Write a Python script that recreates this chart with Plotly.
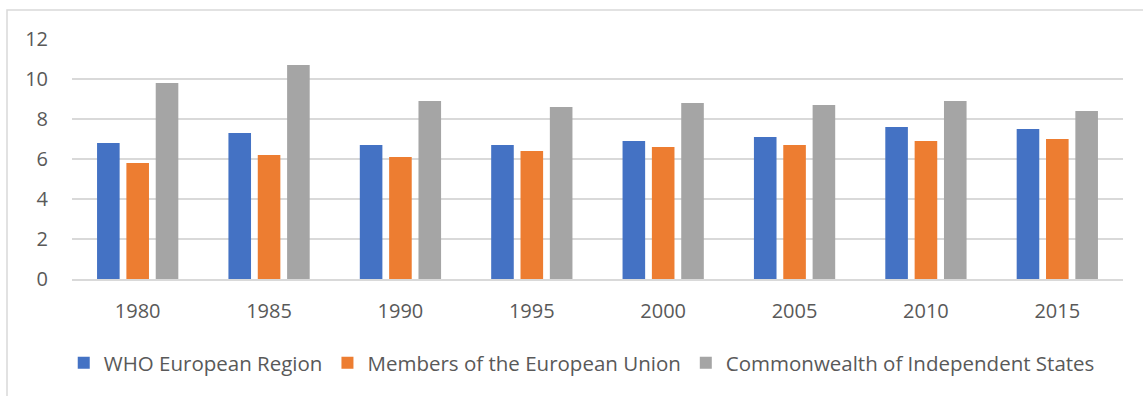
import plotly.graph_objects as go

years = ["1980", "1985", "1990", "1995", "2000", "2005", "2010", "2015"]
who_europe = [6.8, 7.3, 6.7, 6.7, 6.9, 7.1, 7.6, 7.5]
eu_members = [5.8, 6.2, 6.1, 6.4, 6.6, 6.7, 6.9, 7.0]
cis = [9.8, 10.7, 8.9, 8.6, 8.8, 8.7, 8.9, 8.4]
series_names = ["WHO European Region", "Members of the European Union",
                "Commonwealth of Independent States"]
colors = ["#4472C4", "#ED7D31", "#A5A5A5"]
y_ticks = [0, 2, 4, 6, 8, 10, 12]

W, H = 1143, 396
ml, mr, mt, mb = 72, 20, 39, 117
pw, ph = W - ml - mr, H - mt - mb

fig = go.Figure()
for name, vals, c in zip(series_names, [who_europe, eu_members, cis], colors):
    fig.add_trace(go.Bar(x=years, y=vals, name=name, marker_color=c,
                         marker_line_width=0))

font_family = "Open Sans, DejaVu Sans, sans-serif"

def px_x(X):
    return (X - ml) / pw

def px_y(Y):
    return (H - mb - Y) / ph

fig.update_layout(
    width=W, height=H,
    margin=dict(l=ml, r=mr, t=mt, b=mb, pad=0),
    paper_bgcolor="white", plot_bgcolor="white",
    barmode="group", bargap=0.33, bargroupgap=0.23,
    font=dict(family=font_family, size=18, color="#595959"),
    legend=dict(orientation="h", x=0.485, xanchor="center", y=px_y(363),
                yanchor="middle", font=dict(size=20.5, color="#595959"),
                itemwidth=30, tracegroupgap=0, traceorder="normal"),
    xaxis=dict(showgrid=False, showline=True, linecolor="#d9d9d9", linewidth=1.5,
               tickfont=dict(size=20, color="#595959"), ticklabelstandoff=13,
               ticks=""),
    yaxis=dict(range=[0, 12], tickvals=y_ticks, showgrid=True, gridcolor="#d9d9d9",
               gridwidth=1.5, zeroline=False, showline=False,
               tickfont=dict(size=20, color="#595959"), ticklabelstandoff=23,
               ticks=""),
    shapes=[dict(type="path", xref="paper", yref="paper",
                 path=f"M {px_x(7)} {px_y(400)} L {px_x(7)} {px_y(10)} L {px_x(1150)} {px_y(10)}",
                 line=dict(color="#d9d9d9", width=1.5), layer="below")],
)

fig.write_html("out.html")
